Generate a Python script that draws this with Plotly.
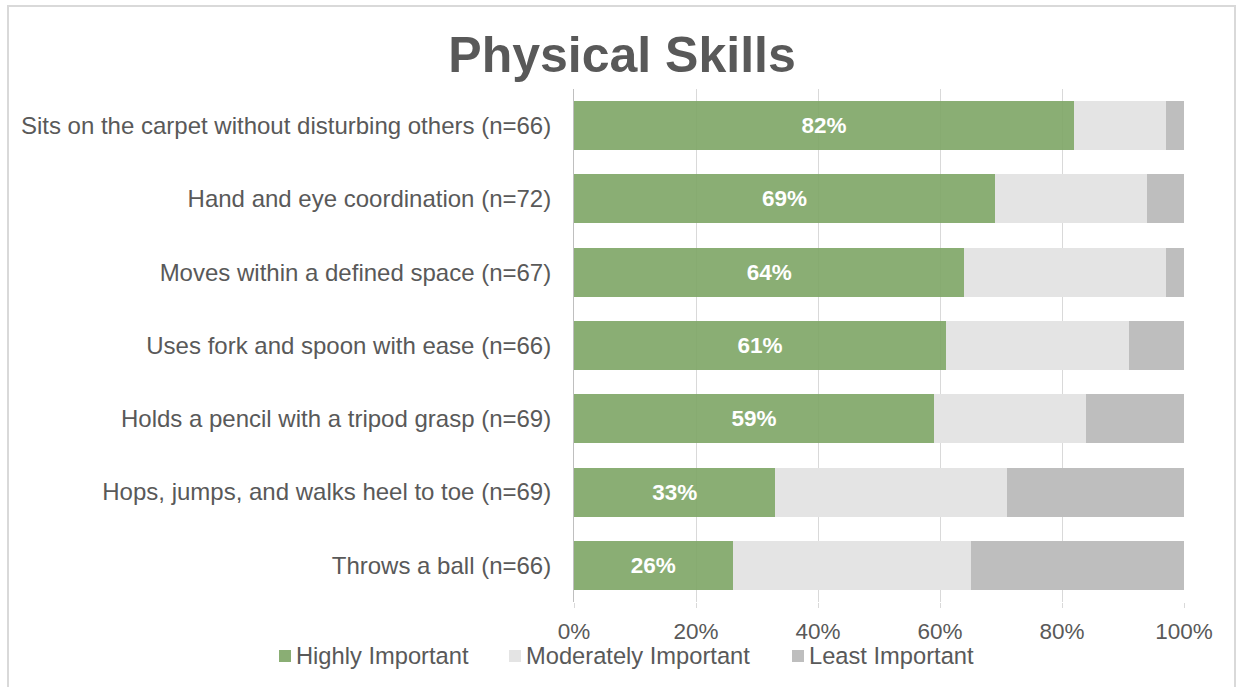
import plotly.graph_objects as go

# Survey items (top to bottom) and the share of responses per importance rating
skills = [
    "Sits on the carpet without disturbing others (n=66)",
    "Hand and eye coordination (n=72)",
    "Moves within a defined space (n=67)",
    "Uses fork and spoon with ease (n=66)",
    "Holds a pencil with a tripod grasp (n=69)",
    "Hops, jumps, and walks heel to toe (n=69)",
    "Throws a ball (n=66)",
]
highly = [82, 69, 64, 61, 59, 33, 26]
moderately = [15, 25, 33, 30, 25, 38, 39]
least = [3, 6, 3, 9, 16, 29, 35]

series_names = ["Highly Important", "Moderately Important", "Least Important"]
series_colors = ["rgba(125,165,101,0.9)", "#e4e4e4", "#bebebe"]
legend_colors = ["#8aae74", "#e4e4e4", "#bebebe"]

tick_vals = [0, 20, 40, 60, 80, 100]
tick_text = ["0%", "20%", "40%", "60%", "80%", "100%"]

FONT = "Liberation Sans, Arial, sans-serif"
TEXT_GREY = "#595959"

fig = go.Figure()
for i, (name, vals, color) in enumerate(zip(series_names, [highly, moderately, least], series_colors)):
    kw = {}
    if i == 0:
        kw = dict(
            text=[f"{v}%" for v in vals], textposition="inside",
            insidetextanchor="middle",
            textfont=dict(family=FONT, size=22.5, color="white", weight="bold"),
        )
    fig.add_trace(go.Bar(
        y=skills, x=vals, orientation="h", name=name,
        marker=dict(color=color, line=dict(width=0)),
        hoverinfo="skip", showlegend=False, **kw,
    ))

# Plot area spans x 574..1184 px and y 89..602 px
L, R, T, B = 574, 1184, 89, 602
W, H = 1238, 687
pw, ph = R - L, B - T

def px_x(x):
    return (x - L) / pw

def px_y(y):
    return (B - y) / ph

# Legend row beneath the axis: colour swatch followed by series name
legend_swatch_x = [279, 509, 792]
legend_y = 656
shapes = [dict(
    type="rect", xref="paper", yref="paper",
    x0=px_x(8), x1=px_x(1235), y0=px_y(700), y1=px_y(6),
    line=dict(color="#d9d9d9", width=2), layer="below",
)]
annotations = []
for sx, name, color in zip(legend_swatch_x, series_names, legend_colors):
    shapes.append(dict(
        type="rect", xref="paper", yref="paper",
        x0=px_x(sx), x1=px_x(sx + 12), y0=px_y(legend_y + 6), y1=px_y(legend_y - 6),
        fillcolor=color, line=dict(width=0),
    ))
    annotations.append(dict(
        text=name, xref="paper", yref="paper",
        x=px_x(sx + 16), y=px_y(legend_y), xanchor="left", yanchor="middle",
        showarrow=False, borderpad=0,
        font=dict(family=FONT, size=23.7, color=TEXT_GREY),
    ))

fig.update_layout(
    width=W, height=H,
    margin=dict(l=L, r=W - R, t=T, b=H - B, autoexpand=False),
    barmode="stack", bargap=0.33,
    paper_bgcolor="white", plot_bgcolor="white",
    font=dict(family=FONT, color=TEXT_GREY, size=22),
    title=dict(
        text="<b>Physical Skills</b>", x=(622) / W, xanchor="center",
        y=1 - 54 / H, yanchor="middle",
        font=dict(family=FONT, size=50, color=TEXT_GREY),
    ),
    xaxis=dict(
        range=[0, 100], tickvals=tick_vals, ticktext=tick_text,
        showgrid=True, gridcolor="#d9d9d9", gridwidth=1,
        zeroline=False, showline=False,
        ticks="outside", ticklen=5, tickcolor="#d9d9d9",
        tickfont=dict(family=FONT, size=22.5, color=TEXT_GREY),
        ticklabelstandoff=4, fixedrange=True,
    ),
    yaxis=dict(
        autorange="reversed", showgrid=False, zeroline=False,
        showline=True, linecolor="#bfbfbf", linewidth=1,
        ticks="", ticklabelstandoff=17,
        tickfont=dict(family=FONT, size=24, color=TEXT_GREY),
        fixedrange=True,
    ),
    shapes=shapes,
    annotations=annotations,
    showlegend=False,
)

fig.write_html("out.html")
